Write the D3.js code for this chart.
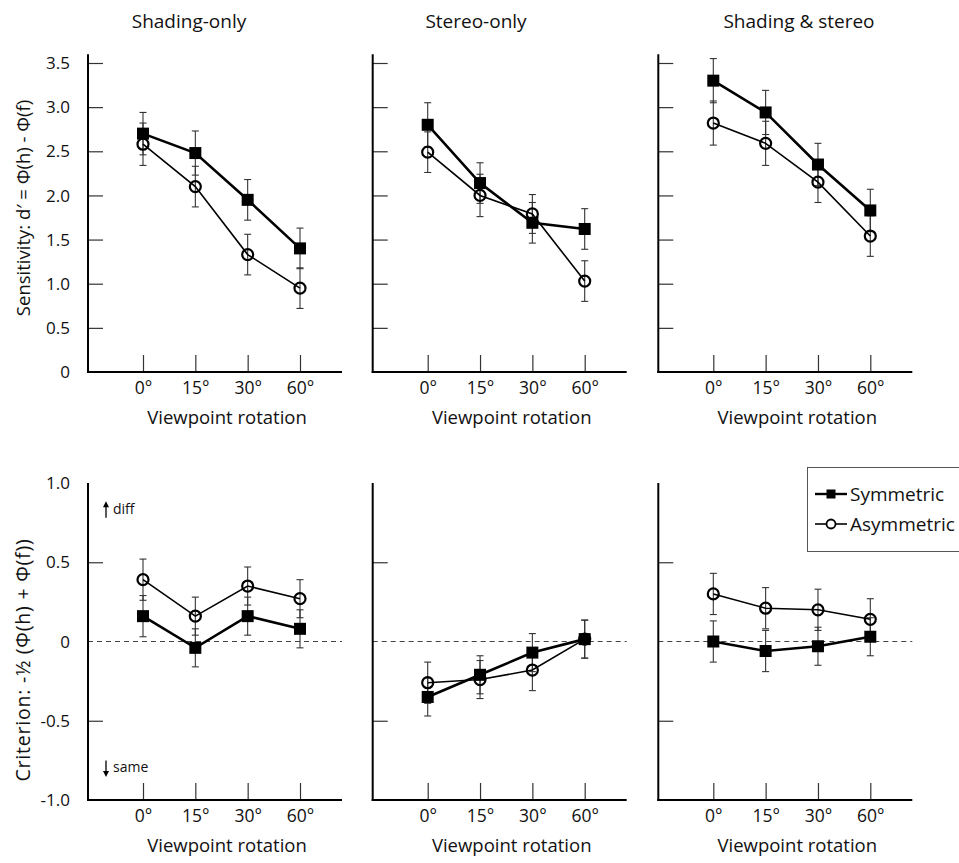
<!DOCTYPE html>
<html>
<head>
<meta charset="utf-8">
<script src="https://cdn.jsdelivr.net/npm/d3@7"></script>
<style>
  body { margin: 0; background: #fff; }
  text { font-family: "Open Sans", "Noto Sans", sans-serif; fill: #111; }
</style>
</head>
<body>
<svg id="chart" width="959" height="863"></svg>
<script>
// data
var rotations = ["0°", "15°", "30°", "60°"];
var conditions = ["Shading-only", "Stereo-only", "Shading & stereo"];

// sensitivity d'
var sensSym = [[2.70, 2.48, 1.95, 1.40], [2.80, 2.14, 1.69, 1.62], [3.30, 2.94, 2.35, 1.83]];
var sensSymErr = [[0.24, 0.25, 0.23, 0.23], [0.25, 0.23, 0.23, 0.23], [0.25, 0.25, 0.24, 0.24]];
var sensAsym = [[2.58, 2.10, 1.33, 0.95], [2.49, 2.00, 1.79, 1.03], [2.82, 2.59, 2.15, 1.54]];
var sensAsymErr = [[0.24, 0.23, 0.23, 0.23], [0.23, 0.24, 0.22, 0.23], [0.25, 0.25, 0.23, 0.23]];

// criterion
var critSym = [[0.16, -0.04, 0.16, 0.08], [-0.35, -0.21, -0.07, 0.015], [0.00, -0.06, -0.03, 0.03]];
var critSymErr = [[0.13, 0.12, 0.12, 0.12], [0.12, 0.12, 0.12, 0.12], [0.13, 0.13, 0.12, 0.12]];
var critAsym = [[0.39, 0.16, 0.35, 0.27], [-0.26, -0.24, -0.18, 0.015], [0.30, 0.21, 0.20, 0.14]];
var critAsymErr = [[0.13, 0.12, 0.12, 0.12], [0.13, 0.12, 0.13, 0.12], [0.13, 0.13, 0.13, 0.13]];

// tick marks and tick labels
var sensTicks = [0.5, 1.0, 1.5, 2.0, 2.5, 3.0, 3.5];
var sensLabels = [0, 0.5, 1.0, 1.5, 2.0, 2.5, 3.0, 3.5];
var critTicks = [-0.5, 0.5];
var critLabels = [-1.0, -0.5, 0, 0.5, 1.0];
var legendLabels = ["Symmetric", "Asymmetric"];

var svg = d3.select("#chart");

var panelX = [88, 372.7, 658.3];
var panelW = 254;
var titleX = [189, 476, 799];

var ySens = d3.scaleLinear().domain([0, 3.5]).range([372, 63]);
var yCrit = d3.scaleLinear().domain([-1, 1]).range([800, 483]);

function fmt(d) {
  if (d === 0) return "0";
  return (d < 0 ? "-" : "") + Math.abs(d).toFixed(1);
}

function drawPanel(i, y, sym, symErr, asym, asymErr, ticks, labels, topY, isCrit) {
  var x0 = panelX[i];
  var x = d3.scalePoint().domain(rotations).range([x0 + 55, x0 + 212]);
  var g = svg.append("g");
  var base = y.range()[0];

  // y axis: ticks point inward, labels only on the left column
  var yAxis = d3.axisLeft(y).tickValues(ticks)
    .tickSizeInner(-15).tickSizeOuter(0).tickFormat("");
  var ya = g.append("g").attr("transform", "translate(" + x0 + ",0)").call(yAxis);
  ya.select(".domain").remove();
  ya.selectAll(".tick line").attr("stroke", "#333").attr("stroke-width", 1.2);
  if (i === 0) {
    g.selectAll(".ylab").data(labels).enter().append("text")
      .attr("x", x0 - 18).attr("y", function(d) { return y(d); })
      .attr("dy", "0.36em").attr("text-anchor", "end")
      .style("font-size", "17px").text(fmt);
  }

  // zero reference for criterion
  if (isCrit) {
    g.append("line")
      .attr("x1", x0).attr("x2", x0 + panelW)
      .attr("y1", y(0)).attr("y2", y(0))
      .attr("stroke", "#444").attr("stroke-width", 1)
      .attr("stroke-dasharray", "5,4");
  }

  // x axis
  var xAxis = d3.axisBottom(x).tickSizeInner(-17).tickSizeOuter(0).tickPadding(10);
  var xa = g.append("g").attr("transform", "translate(0," + base + ")").call(xAxis);
  xa.select(".domain").remove();
  xa.selectAll(".tick line").attr("stroke", "#333").attr("stroke-width", 1.2);
  xa.selectAll(".tick text").style("font-size", "17.5px").attr("fill", "#111")
    .style("font-family", "'Open Sans', sans-serif");

  // axis frame
  g.append("line").attr("x1", x0).attr("x2", x0)
    .attr("y1", y(topY)).attr("y2", base + 1)
    .attr("stroke", "#000").attr("stroke-width", 2);
  g.append("line").attr("x1", x0 - 1).attr("x2", x0 + panelW)
    .attr("y1", base).attr("y2", base)
    .attr("stroke", "#000").attr("stroke-width", 2);

  g.append("text")
    .attr("x", x0 + 139).attr("y", base + 52)
    .attr("text-anchor", "middle").style("font-size", "18.5px")
    .text("Viewpoint rotation");

  var asymPts = rotations.map(function(r, k) { return { r: r, v: asym[k], e: asymErr[k] }; });
  var symPts = rotations.map(function(r, k) { return { r: r, v: sym[k], e: symErr[k] }; });

  var line = d3.line().x(function(d) { return x(d.r); }).y(function(d) { return y(d.v); });

  // error bars
  [asymPts, symPts].forEach(function(pts) {
    var eb = g.append("g").attr("stroke", "#333").attr("stroke-width", 1.1);
    pts.forEach(function(d) {
      var cx = x(d.r);
      eb.append("line").attr("x1", cx).attr("x2", cx)
        .attr("y1", y(d.v - d.e)).attr("y2", y(d.v + d.e));
      [d.v - d.e, d.v + d.e].forEach(function(v) {
        eb.append("line").attr("x1", cx - 3.5).attr("x2", cx + 3.5)
          .attr("y1", y(v)).attr("y2", y(v));
      });
    });
  });

  // asymmetric
  g.append("path").datum(asymPts).attr("d", line)
    .attr("fill", "none").attr("stroke", "#000").attr("stroke-width", 1.6);
  g.selectAll(".asym").data(asymPts).enter().append("circle")
    .attr("cx", function(d) { return x(d.r); })
    .attr("cy", function(d) { return y(d.v); })
    .attr("r", 5.5)
    .attr("fill", "none").attr("stroke", "#000").attr("stroke-width", 2.2);

  // symmetric
  g.append("path").datum(symPts).attr("d", line)
    .attr("fill", "none").attr("stroke", "#000").attr("stroke-width", 2.6);
  g.selectAll(".sym").data(symPts).enter().append("rect")
    .attr("x", function(d) { return x(d.r) - 6; })
    .attr("y", function(d) { return y(d.v) - 6; })
    .attr("width", 12).attr("height", 12)
    .attr("fill", "#000");
}

for (var i = 0; i < 3; i++) {
  svg.append("text").attr("x", titleX[i]).attr("y", 28)
    .attr("text-anchor", "middle").style("font-size", "19px")
    .text(conditions[i]);
  drawPanel(i, ySens, sensSym[i], sensSymErr[i], sensAsym[i], sensAsymErr[i], sensTicks, sensLabels, 3.6, false);
  drawPanel(i, yCrit, critSym[i], critSymErr[i], critAsym[i], critAsymErr[i], critTicks, critLabels, 1.0, true);
}

// y axis titles
svg.append("text")
  .attr("transform", "translate(30,208) rotate(-90)")
  .attr("text-anchor", "middle").style("font-size", "18.5px")
  .text("Sensitivity:  d\u2032 = \u03A6(h) - \u03A6(f)");
svg.append("text")
  .attr("transform", "translate(30,660) rotate(-90)")
  .attr("text-anchor", "middle").style("font-size", "19.5px")
  .style("letter-spacing", "0.8px")
  .text("Criterion: -\u00BD (\u03A6(h) + \u03A6(f))");

// diff / same arrows
function arrow(xa, yFrom, yTo) {
  var dir = yTo < yFrom ? 1 : -1;
  svg.append("line").attr("x1", xa).attr("x2", xa).attr("y1", yFrom).attr("y2", yTo + dir * 4)
    .attr("stroke", "#000").attr("stroke-width", 1.3);
  svg.append("path")
    .attr("d", "M" + (xa - 3) + "," + (yTo + dir * 6) + "L" + xa + "," + yTo + "L" + (xa + 3) + "," + (yTo + dir * 6) + "Z")
    .attr("fill", "#000");
}
arrow(106, yCrit(0.78), yCrit(0.885));
svg.append("text").attr("x", 113).attr("y", yCrit(0.805)).style("font-size", "14px").text("diff");
arrow(106, yCrit(-0.75), yCrit(-0.855));
svg.append("text").attr("x", 113).attr("y", yCrit(-0.825)).style("font-size", "14px").text("same");

// legend
var lg = svg.append("g");
lg.append("rect").attr("x", 807.5).attr("y", 467.5).attr("width", 170).attr("height", 84)
  .attr("fill", "#fff").attr("stroke", "#555").attr("stroke-width", 1);
legendLabels.forEach(function(lab, k) {
  var ly = 494 + k * 30;
  lg.append("line").attr("x1", 815).attr("x2", 847).attr("y1", ly).attr("y2", ly)
    .attr("stroke", "#000").attr("stroke-width", k === 0 ? 2.4 : 1.6);
  if (k === 0) {
    lg.append("rect").attr("x", 826.5).attr("y", ly - 4.5).attr("width", 9).attr("height", 9).attr("fill", "#000");
  } else {
    lg.append("circle").attr("cx", 831).attr("cy", ly).attr("r", 4.5)
      .attr("fill", "#fff").attr("stroke", "#000").attr("stroke-width", 1.8);
  }
  lg.append("text").attr("x", 850).attr("y", ly).attr("dy", "0.35em")
    .style("font-size", "19px").text(lab);
});
</script>
</body>
</html>
